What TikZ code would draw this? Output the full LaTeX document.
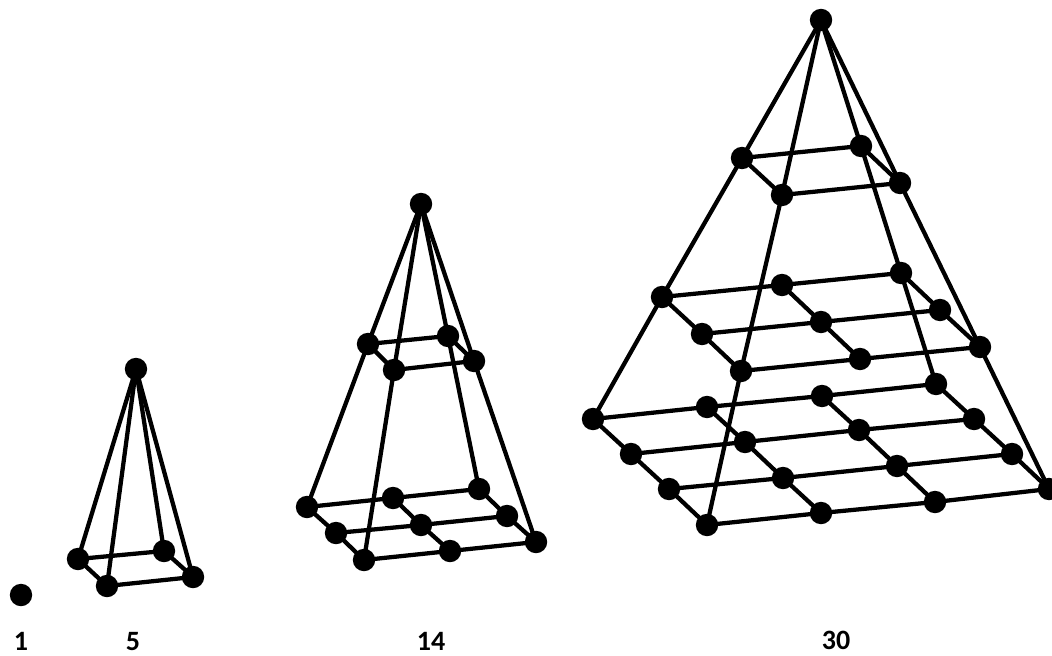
\documentclass[tikz,border=0pt]{standalone}
\usepackage{fontspec}
\setmainfont{Carlito}
\tikzset{
  dot/.style={circle,fill=black,inner sep=0pt,minimum size=16.8pt},
  edge/.style={draw=black,line width=3.2pt},
  lab/.style={font=\bfseries\fontsize{21}{23}\selectfont,inner sep=0pt}
}
\newcommand{\putdots}[1]{\foreach \n/\p in {#1} {\node[dot] (\n) at (\p) {};}}
\begin{document}
\begin{tikzpicture}[x=0.75pt,y=-0.75pt]
\path[use as bounding box] (0,0) rectangle (1052,656);
% single
\node[dot] (s) at (21,595) {};
\node[lab] (l1) at (21,641.5) {1};
\node[lab] (l5) at (133,641.5) {5};
\node[lab] (l14) at (431,641.5) {14};
\node[lab] (l30) at (836,640) {30};
% pyramid 5
\putdots{a/{136,369},a1/{78,559},a2/{164,551},a3/{193,577},a4/{107,586}}
\foreach \u/\v in {a/a1,a/a2,a/a3,a/a4,a1/a2,a2/a3,a3/a4,a4/a1} {\draw[edge] (\u.center) -- (\v.center);}
% pyramid 14
\putdots{b/{421,204},
  m1/{368,344},m2/{448,336},m3/{474,361},m4/{394,370},
  b11/{307,507},b12/{393,498},b13/{479,489},
  b21/{336,533},b22/{421,525},b23/{507,516},
  b31/{364,560},b32/{450,551},b33/{536,542}}
\foreach \u/\v in {b/m1,b/m2,b/m3,b/m4,m1/m2,m2/m3,m3/m4,m4/m1,
  m1/b11,m2/b13,m3/b33,m4/b31,
  b11/b12,b12/b13,b21/b22,b22/b23,b31/b32,b32/b33,
  b11/b21,b21/b31,b12/b22,b22/b32,b13/b23,b23/b33} {\draw[edge] (\u.center) -- (\v.center);}
% pyramid 30
\putdots{c/{821,20},
  d1/{742,158},d2/{861,146},d3/{900,183},d4/{782,195},
  e11/{662,297},e12/{782,285},e13/{901,273},
  e21/{702,334},e22/{821,322},e23/{940,310},
  e31/{741,371},e32/{860,359},e33/{980,347},
  f11/{593,419},f12/{707,407},f13/{822,396},f14/{936,384},
  f21/{631,454},f22/{745,442},f23/{859,430},f24/{974,419},
  f31/{669,489},f32/{783,478},f33/{897,466},f34/{1012,454},
  f41/{707,525},f42/{821,513},f43/{935,502},f44/{1049,489}}
\foreach \u/\v in {c/d1,c/d2,c/d3,c/d4,d1/d2,d2/d3,d3/d4,d4/d1,
  d1/e11,d2/e13,d3/e33,d4/e31,
  e11/e12,e12/e13,e21/e22,e22/e23,e31/e32,e32/e33,
  e11/e21,e21/e31,e12/e22,e22/e32,e13/e23,e23/e33,
  e11/f11,e13/f14,e33/f44,e31/f41,
  f11/f12,f12/f13,f13/f14,f21/f22,f22/f23,f23/f24,
  f31/f32,f32/f33,f33/f34,f41/f42,f42/f43,f43/f44,
  f11/f21,f21/f31,f31/f41,f12/f22,f22/f32,f32/f42,
  f13/f23,f23/f33,f33/f43,f14/f24,f24/f34,f34/f44} {\draw[edge] (\u.center) -- (\v.center);}
\end{tikzpicture}
\end{document}
